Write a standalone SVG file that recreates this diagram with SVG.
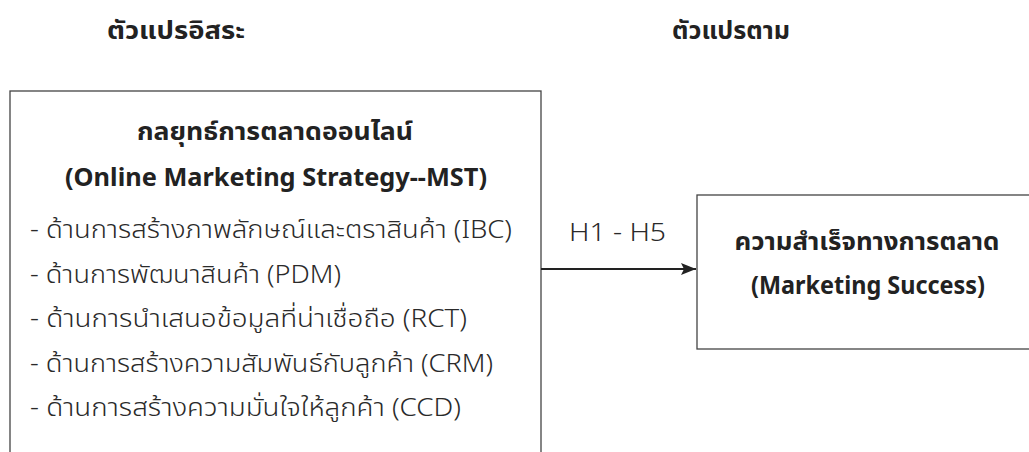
<svg xmlns="http://www.w3.org/2000/svg" width="1029" height="452" viewBox="0 0 1029 452">
<style>
text{font-family:"Noto Sans","Noto Sans Thai",sans-serif;fill:#222;font-size:25px}
.b{font-weight:bold}
.m{text-anchor:middle}
.l{font-weight:300;fill:#2a2a2a}
.box{fill:#fff;stroke:#444;stroke-width:1.3}
.conn{stroke:#222;stroke-width:1.8;fill:none}
</style>
<defs>
<marker id="ah" markerWidth="15" markerHeight="12" refX="15" refY="6" orient="auto" markerUnits="userSpaceOnUse">
<path d="M0,0 L15,6 L0,12 L3,6 Z" fill="#222"/>
</marker>
</defs>
<g id="header-left"><text class="b m" x="176" y="39" textLength="138" lengthAdjust="spacingAndGlyphs">ตัวแปรอิสระ</text></g>
<g id="header-right"><text class="b m" x="731" y="39" textLength="118" lengthAdjust="spacingAndGlyphs">ตัวแปรตาม</text></g>
<g id="node-mst">
<rect class="box" x="10" y="91" width="531" height="380"/>
<text class="b m" x="275" y="140" textLength="276" lengthAdjust="spacingAndGlyphs">กลยุทธ์การตลาดออนไลน์</text>
<text class="b m" x="276" y="186" textLength="422" lengthAdjust="spacingAndGlyphs">(Online Marketing Strategy--MST)</text>
<text class="l" x="30" y="238" textLength="482" lengthAdjust="spacingAndGlyphs">- ด้านการสร้างภาพลักษณ์และตราสินค้า (IBC)</text>
<text class="l" x="30" y="282.5" textLength="311" lengthAdjust="spacingAndGlyphs">- ด้านการพัฒนาสินค้า (PDM)</text>
<text class="l" x="30" y="327" textLength="437" lengthAdjust="spacingAndGlyphs">- ด้านการนำเสนอข้อมูลที่น่าเชื่อถือ (RCT)</text>
<text class="l" x="30" y="371.5" textLength="463" lengthAdjust="spacingAndGlyphs">- ด้านการสร้างความสัมพันธ์กับลูกค้า (CRM)</text>
<text class="l" x="30" y="416" textLength="431" lengthAdjust="spacingAndGlyphs">- ด้านการสร้างความมั่นใจให้ลูกค้า (CCD)</text>
</g>
<g id="node-ms">
<rect class="box" x="697" y="195" width="340" height="154"/>
<text class="b m" x="867" y="250" textLength="265" lengthAdjust="spacingAndGlyphs">ความสำเร็จทางการตลาด</text>
<text class="b m" x="868" y="294" textLength="234" lengthAdjust="spacingAndGlyphs">(Marketing Success)</text>
</g>
<g id="connectors">
<line class="conn" x1="541" y1="269" x2="696" y2="269" marker-end="url(#ah)"/>
<text class="l m" x="617.5" y="241" textLength="97" lengthAdjust="spacingAndGlyphs">H1 - H5</text>
</g>
</svg>
